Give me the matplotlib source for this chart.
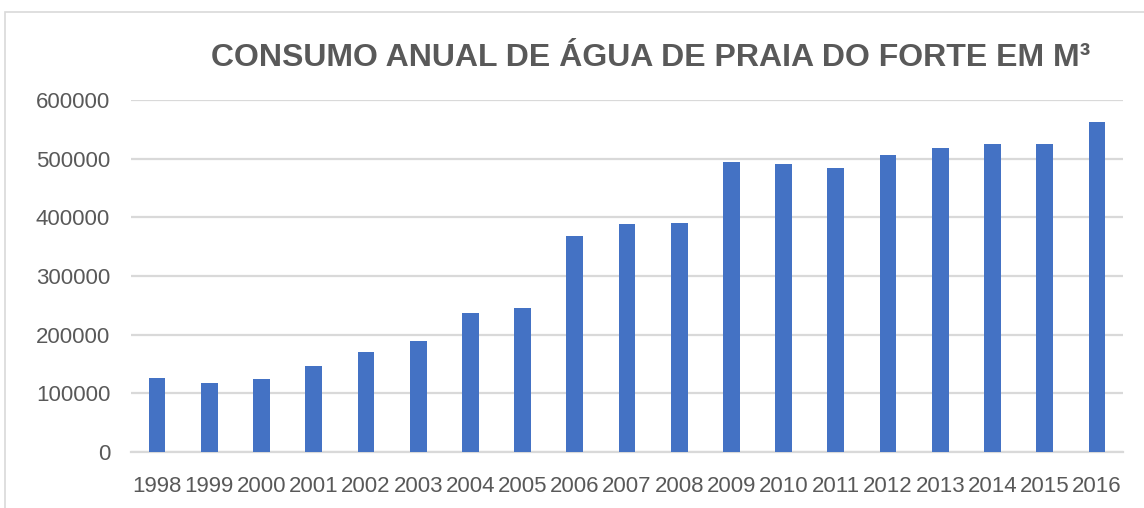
import numpy as np
import matplotlib.pyplot as plt
from matplotlib.patches import Rectangle

anos = ['1998', '1999', '2000', '2001', '2002', '2003', '2004', '2005', '2006', '2007',
        '2008', '2009', '2010', '2011', '2012', '2013', '2014', '2015', '2016']
consumo = [126700, 118200, 124400, 146500, 169800, 189800, 237500, 246000, 367800, 389100,
           390100, 494700, 491300, 484500, 505500, 517900, 525400, 524800, 561700]
yticks = [0, 100000, 200000, 300000, 400000, 500000, 600000]

plt.rcParams['font.family'] = ['Liberation Sans', 'DejaVu Sans']
cinza = '#595959'

fig = plt.figure(figsize=(11.44, 5.08), dpi=100)
ax = fig.add_axes([131 / 1144, 1 - 452 / 508, (1123 - 131) / 1144, (452 - 100) / 508])

x = np.arange(len(anos))
ax.bar(x, consumo, width=0.32, color='#4472c4', zorder=3)

ax.set_xlim(-0.5, len(anos) - 0.5)
ax.set_ylim(0, 600000)
ax.set_yticks(yticks)
ax.set_yticklabels([str(v) for v in yticks])
ax.set_xticks(x)
ax.set_xticklabels(anos)
ax.tick_params(axis='both', length=0, labelsize=16, colors=cinza)
ax.tick_params(axis='y', pad=15)
ax.tick_params(axis='x', pad=17)
ax.grid(axis='y', color='#d9d9d9', linewidth=1.6, zorder=0)
for s in ['top', 'right', 'left']:
    ax.spines[s].set_visible(False)
ax.spines['bottom'].set_color('#d9d9d9')
ax.spines['bottom'].set_linewidth(1.6)

fig.text(651 / 1144, 1 - 58 / 508, 'CONSUMO ANUAL DE ÁGUA DE PRAIA DO FORTE EM M³',
         ha='center', va='center', fontsize=23, fontweight='bold', color=cinza)

fig.patches.append(Rectangle((5 / 1144, -0.1), 1.2, 1 - 12 / 508 + 0.1, transform=fig.transFigure,
                             fill=False, edgecolor='#d9d9d9', linewidth=1.2))

fig.savefig('out.png', dpi=100)
